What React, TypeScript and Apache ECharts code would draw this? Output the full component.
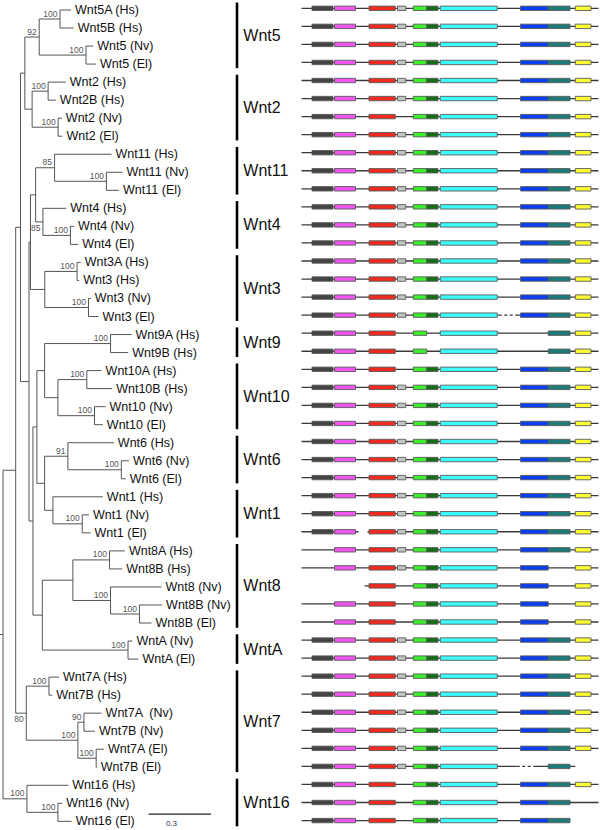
import { useEffect, useRef } from "react";
import * as echarts from "echarts";

// ---------- Tree data (branch lengths in substitutions/site, bootstrap support) ----------
type Leaf = { name: string; len: number };
type Clade = { len: number; support: string; below?: boolean; children: TreeNode[] };
type TreeNode = Leaf | Clade;
const L = (name: string, len: number): Leaf => ({ name, len });
const C = (len: number, support: string, ...children: TreeNode[]): Clade => ({ len, support, children });
const CB = (len: number, support: string, ...children: TreeNode[]): Clade => ({ len, support, below: true, children });

const wnt5 = C(0.069, "92",
  C(0.100, "100", L("Wnt5A (Hs)", 0.053), L("Wnt5B (Hs)", 0.066)),
  C(0.225, "100", L("Wnt5 (Nv)", 0.035), L("Wnt5 (El)", 0.048)));
const wnt2 = C(0.035, "",
  C(0.077, "100", L("Wnt2 (Hs)", 0.085), L("Wnt2B (Hs)", 0.037)),
  C(0.125, "100", L("Wnt2 (Nv)", 0.018), L("Wnt2 (El)", 0.021)));
const wnt11 = C(0.091, "85", L("Wnt11 (Hs)", 0.274),
  C(0.249, "100", L("Wnt11 (Nv)", 0.077), L("Wnt11 (El)", 0.061)));
const wnt4 = CB(0.035, "85", L("Wnt4 (Hs)", 0.112),
  C(0.132, "100", L("Wnt4 (Nv)", 0.017), L("Wnt4 (El)", 0.038)));
const wnt3 = C(0.069, "",
  C(0.155, "100", L("Wnt3A (Hs)", 0.018), L("Wnt3 (Hs)", 0.010)),
  C(0.210, "100", L("Wnt3 (Nv)", 0.011), L("Wnt3 (El)", 0.048)));
const wnt9 = C(0.317, "100", L("Wnt9A (Hs)", 0.101), L("Wnt9B (Hs)", 0.085));
const wnt10 = C(0.064, "",
  C(0.139, "100", L("Wnt10A (Hs)", 0.071), L("Wnt10B (Hs)", 0.122)),
  C(0.176, "100", L("Wnt10 (Nv)", 0.053), L("Wnt10 (El)", 0.040)));
const wnt6 = C(0.112, "91", L("Wnt6 (Hs)", 0.221),
  C(0.257, "100", L("Wnt6 (Nv)", 0.037), L("Wnt6 (El)", 0.021)));
const wnt1 = C(0.040, "", L("Wnt1 (Hs)", 0.240),
  C(0.141, "100", L("Wnt1 (Nv)", 0.032), L("Wnt1 (El)", 0.040)));
const wnt8 = C(0.147, "",
  C(0.176, "100", L("Wnt8A (Hs)", 0.074), L("Wnt8B (Hs)", 0.061)),
  C(0.181, "100", L("Wnt8 (Nv)", 0.245),
    C(0.139, "100", L("Wnt8B (Nv)", 0.109), L("Wnt8B (El)", 0.058))));
const wntA = C(0.412, "100", L("WntA (Nv)", 0.021), L("WntA (El)", 0.050));
const wnt7 = CB(0.051, "80",
  C(0.109, "100", L("Wnt7A (Hs)", 0.048), L("Wnt7B (Hs)", 0.016)),
  C(0.248, "100",
    C(0.029, "90", L("Wnt7A  (Nv)", 0.085), L("Wnt7B (Nv)", 0.053)),
    C(0.088, "100", L("Wnt7A (El)", 0.037), L("Wnt7B (El)", 0.003))));
const wnt16 = C(0.115, "100", L("Wnt16 (Hs)", 0.199),
  C(0.149, "100", L("Wnt16 (Nv)", 0.021), L("Wnt16 (El)", 0.066)));

const tree = C(0, "",
  C(0.061, "",
    C(0.023, "",
      C(0.021, "", wnt5, wnt2),
      C(0.041, "",
        C(0.007, "", C(0.025, "", wnt11, wnt4), wnt3),
        C(0.019, "",
          C(0.019, "", C(0.037, "", wnt9, wnt10), C(0.037, "", wnt6, wnt1)),
          C(0.045, "", wnt8, wntA)))),
    wnt7),
  wnt16);

const scaleBarLength = 0.3;

// ---------- Domain architecture data (alignment columns) ----------
const domainKeys = ["K", "P", "R", "G", "L", "D", "C", "B", "T", "Y"];
const domainStart = [16, 46, 92, 130, 151, 169, 187, 294, 331, 367];
const domainEnd = [44, 74, 127, 141, 169, 184, 263, 331, 360, 388];
const domainColors = ["#444444", "#f055f0", "#f02a1e", "#c4c4c4", "#3cef2c", "#146e14", "#3cfcfc", "#0a3ef0", "#1c7a78", "#fcfc32"];

const FULL = "KPRGLDCBTY";
const rowDomains = [
  FULL, FULL, FULL, FULL,                 // Wnt5
  FULL, FULL, "KPRLDCBTY", FULL,          // Wnt2
  FULL, FULL, FULL,                       // Wnt11
  FULL, FULL, FULL,                       // Wnt4
  FULL, FULL, FULL, FULL,                 // Wnt3
  "KPRLCTY", "KPRLCTY",                   // Wnt9
  "KPRLDCBTY", FULL, FULL, FULL,          // Wnt10
  FULL, FULL, FULL,                       // Wnt6
  FULL, FULL, FULL,                       // Wnt1
  "PRGLDCBTY", "PRGLDCBY", "RLDCBY", "PRLDCBY", "PRLDCBY", // Wnt8
  FULL, FULL,                             // WntA
  FULL, FULL, FULL, FULL, FULL, "KPRGLDCT", // Wnt7
  "KPRLDCBTY", "KPRLDCBT", "KPRLDCBT",    // Wnt16
];
const alignmentStart = 2;
const alignmentEnd = 398;
const lineStartOverride: [number, number][] = [[32, 86]];
const lineEndOverride: [number, number][] = [[42, 367], [45, 360]];
const lineGaps: [number, number, number][] = [[29, 78, 90]];
const dashedSpans: [number, number, number][] = [[17, 265, 289], [42, 289, 311]];

const groupNames = ["Wnt5", "Wnt2", "Wnt11", "Wnt4", "Wnt3", "Wnt9", "Wnt10", "Wnt6", "Wnt1", "Wnt8", "WntA", "Wnt7", "Wnt16"];
const groupSizes = [4, 4, 3, 3, 4, 2, 4, 3, 3, 5, 2, 6, 3];

// ---------- Layout helpers ----------
type LNode = { x: number; px: number; y: number; y0: number; y1: number; name?: string; support?: string; below?: boolean; leaf: boolean };
function layoutTree(root: TreeNode): LNode[] {
  const out: LNode[] = [];
  let leafIdx = 0;
  const walk = (node: TreeNode, parentX: number): number => {
    const x = parentX + node.len;
    if ("name" in node) {
      const y = leafIdx++;
      out.push({ x, px: parentX, y, y0: y, y1: y, name: node.name, leaf: true });
      return y;
    }
    const ys = node.children.map((c) => walk(c, x));
    const y = (ys[0] + ys[ys.length - 1]) / 2;
    out.push({ x, px: parentX, y, y0: ys[0], y1: ys[ys.length - 1], support: node.support, below: node.below, leaf: false });
    return y;
  };
  walk(root, 0);
  out[out.length - 1].px = -0.016; // root stub
  return out;
}

const FONT = '"Liberation Sans", Arial, Helvetica, sans-serif';
const TREE_COLOR = "#555555";
const BOX_H = 4.4;
const ROWS = rowDomains.length;
const BRACKET_PAD = 0.32;

export default function App() {
  const ref = useRef<HTMLDivElement>(null);
  useEffect(() => {
    if (!ref.current) return;
    const chart = echarts.init(ref.current, undefined, { renderer: "svg" });
    const nodes = layoutTree(tree);

    const boxes: number[][] = [];
    rowDomains.forEach((s, r) => {
      for (const ch of s) {
        const d = domainKeys.indexOf(ch);
        boxes.push([domainStart[d], domainEnd[d], r, d]);
      }
    });
    const segs: number[][] = [];
    for (let r = 0; r < ROWS; r++) {
      const st = lineStartOverride.find((o) => o[0] === r)?.[1] ?? alignmentStart;
      const en = lineEndOverride.find((o) => o[0] === r)?.[1] ?? alignmentEnd;
      const cuts: [number, number, number][] = [];
      lineGaps.filter((g) => g[0] === r).forEach((g) => cuts.push([g[1], g[2], 0]));
      dashedSpans.filter((g) => g[0] === r).forEach((g) => cuts.push([g[1], g[2], 1]));
      cuts.sort((a, b) => a[0] - b[0]);
      let cur = st;
      for (const c of cuts) {
        if (c[0] > cur) segs.push([cur, c[0], r, 0]);
        if (c[2] === 1) segs.push([c[0], c[1], r, 1]);
        cur = c[1];
      }
      if (en > cur) segs.push([cur, en, r, 0]);
    }
    const groups: number[][] = [];
    let acc = 0;
    groupSizes.forEach((n) => { groups.push([acc, acc + n - 1]); acc += n; });

    const hiddenX = (gridIndex: number, min: number, max: number) => ({ type: "value", gridIndex, min, max, show: false });
    const hiddenY = (gridIndex: number) => ({ type: "value", gridIndex, min: 0, max: ROWS - 1, inverse: true, show: false });

    chart.setOption({
      animation: false,
      backgroundColor: "#ffffff",
      grid: [
        { left: 3, top: 10, width: 208, height: 18.03 * (ROWS - 1) },
        { left: 300, top: 8.3, width: 300, height: 18.05 * (ROWS - 1) },
        { left: 237, top: 8.3, width: 63, height: 18.05 * (ROWS - 1) },
      ],
      xAxis: [hiddenX(0, 0, 1), hiddenX(1, 0, 400), hiddenX(2, 0, 1)],
      yAxis: [hiddenY(0), hiddenY(1), hiddenY(2)],
      series: [
        {
          type: "custom", xAxisIndex: 0, yAxisIndex: 0, clip: false, silent: true,
          data: nodes.map((n) => [n.x, n.y]),
          renderItem: (params: any, api: any) => {
            const n = nodes[params.dataIndex];
            const a = api.coord([n.px, n.y]);
            const b = api.coord([n.x, n.y]);
            const kids: any[] = [
              { type: "line", shape: { x1: a[0], y1: b[1], x2: b[0], y2: b[1] }, style: { stroke: TREE_COLOR, lineWidth: 1 } },
            ];
            if (n.leaf) {
              kids.push({ type: "text", x: b[0] + 4, y: b[1], style: { text: n.name, fill: "#111", font: `12.5px ${FONT}`, align: "left", verticalAlign: "middle" } });
            } else {
              const t = api.coord([n.x, n.y0]);
              const u = api.coord([n.x, n.y1]);
              kids.push({ type: "line", shape: { x1: t[0], y1: t[1], x2: u[0], y2: u[1] }, style: { stroke: TREE_COLOR, lineWidth: 1 } });
              if (n.support) {
                kids.push({
                  type: "text", x: b[0] - 2.5, y: n.below ? b[1] + 1.5 : b[1] - 1,
                  style: { text: n.support, fill: "#555", font: `8.5px ${FONT}`, align: "right", verticalAlign: n.below ? "top" : "bottom" },
                });
              }
            }
            return { type: "group", children: kids };
          },
        },
        {
          type: "custom", xAxisIndex: 0, yAxisIndex: 0, clip: false, silent: true,
          data: [[0.7, 44.6]],
          renderItem: (params: any, api: any) => {
            const s = api.coord([api.value(0), api.value(1)]);
            const e = api.coord([api.value(0) + scaleBarLength, api.value(1)]);
            const lbl = api.coord([api.value(0) + 0.11, api.value(1) + 0.5]);
            return {
              type: "group",
              children: [
                { type: "line", shape: { x1: s[0], y1: s[1], x2: e[0], y2: e[1] }, style: { stroke: "#222", lineWidth: 1.2 } },
                { type: "text", x: lbl[0], y: lbl[1], style: { text: String(scaleBarLength), fill: "#333", font: `8px ${FONT}`, align: "center", verticalAlign: "middle" } },
              ],
            };
          },
        },
        {
          type: "custom", xAxisIndex: 1, yAxisIndex: 1, clip: false, silent: true,
          data: segs,
          renderItem: (params: any, api: any) => {
            const s = api.coord([api.value(0), api.value(2)]);
            const e = api.coord([api.value(1), api.value(2)]);
            const dashed = api.value(3) === 1;
            return {
              type: "line", shape: { x1: s[0], y1: s[1], x2: e[0], y2: e[1] },
              style: { stroke: "#3a3a3a", lineWidth: 1.3, lineDash: dashed ? [3, 2.5] : null },
            };
          },
        },
        {
          type: "custom", xAxisIndex: 1, yAxisIndex: 1, clip: false, silent: true,
          data: boxes,
          renderItem: (params: any, api: any) => {
            const s = api.coord([api.value(0), api.value(2)]);
            const e = api.coord([api.value(1), api.value(2)]);
            const d = api.value(3);
            return {
              type: "rect",
              shape: { x: s[0], y: s[1] - BOX_H / 2, width: e[0] - s[0], height: BOX_H },
              style: { fill: domainColors[d], stroke: "#5a5a5a", lineWidth: 0.9 },
            };
          },
        },
        {
          type: "custom", xAxisIndex: 2, yAxisIndex: 2, clip: false, silent: true,
          data: groups,
          renderItem: (params: any, api: any) => {
            const top = api.coord([0, api.value(0) - BRACKET_PAD]);
            const bot = api.coord([0, api.value(1) + BRACKET_PAD]);
            const mid = api.coord([0.1, (api.value(0) + api.value(1)) / 2]);
            return {
              type: "group",
              children: [
                { type: "line", shape: { x1: top[0], y1: top[1], x2: bot[0], y2: bot[1] }, style: { stroke: "#000", lineWidth: 2.6 } },
                { type: "text", x: mid[0], y: mid[1], style: { text: groupNames[params.dataIndex], fill: "#111", font: `16px ${FONT}`, align: "left", verticalAlign: "middle" } },
              ],
            };
          },
        },
      ],
    });
    return () => chart.dispose();
  }, []);
  return <div ref={ref} style={{ position: "fixed", left: 0, top: 0, width: 600, height: 830, background: "#fff" }} />;
}
